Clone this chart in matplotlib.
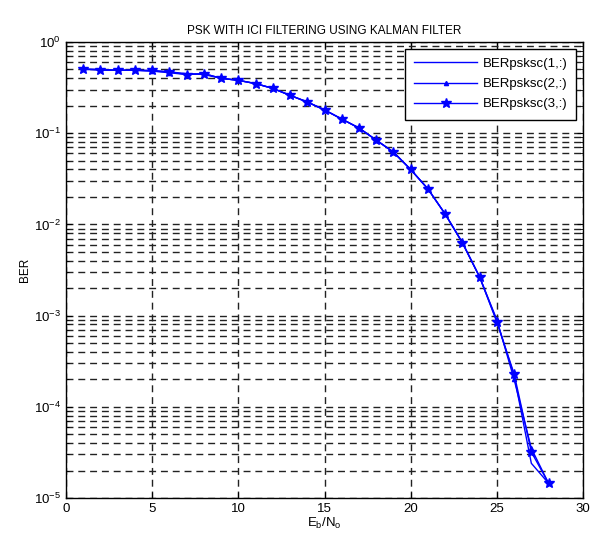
import matplotlib
matplotlib.use("Agg")
import matplotlib.pyplot as plt
import numpy as np

plt.rcParams['font.family'] = ['Liberation Sans', 'DejaVu Sans']
plt.rcParams['mathtext.fontset'] = 'custom'
plt.rcParams['mathtext.rm'] = 'Liberation Sans'
plt.rcParams['mathtext.it'] = 'Liberation Sans'

snr = list(range(1, 29))
ber1 = [0.50, 0.50, 0.49, 0.49, 0.48, 0.47, 0.45, 0.44, 0.40, 0.38, 0.35, 0.31, 0.26, 0.22,
        0.18, 0.143, 0.114, 0.084, 0.062, 0.040, 0.0245, 0.013, 0.0063, 0.00265, 0.00087,
        0.00022, 2.4e-5, 1.45e-5]
ber2 = [0.50, 0.50, 0.49, 0.49, 0.48, 0.46, 0.44, 0.45, 0.40, 0.38, 0.35, 0.31, 0.26, 0.22,
        0.18, 0.143, 0.114, 0.084, 0.062, 0.040, 0.0245, 0.013, 0.0063, 0.00265, 0.00090,
        0.00020, 3.5e-5, 1.45e-5]
ber3 = [0.51, 0.49, 0.49, 0.49, 0.49, 0.47, 0.44, 0.45, 0.40, 0.38, 0.35, 0.31, 0.26, 0.22,
        0.18, 0.143, 0.114, 0.084, 0.062, 0.040, 0.0245, 0.013, 0.0063, 0.00265, 0.00085,
        0.00023, 3.2e-5, 1.45e-5]
labels = ['BERpsksc(1,:)', 'BERpsksc(2,:)', 'BERpsksc(3,:)']
title = 'PSK WITH ICI FILTERING USING KALMAN FILTER'

fig = plt.figure(figsize=(5.93, 5.47), dpi=100)
ax = fig.add_axes([0.1113, 0.0896, 0.8719, 0.8336])

ax.semilogy(snr, ber1, '-', color='#0000ff', lw=1.0, label=labels[0])
ax.semilogy(snr, ber2, '-^', color='#0000ff', lw=1.0, ms=3, label=labels[1])
ax.semilogy(snr, ber3, '-*', color='#0000ff', lw=1.0, ms=7, label=labels[2])

ax.set_xlim(0, 30)
ax.set_ylim(1e-5, 1)
ax.set_xticks([0, 5, 10, 15, 20, 25, 30])
gs = (0, (5, 3.5))
ax.grid(True, which='major', axis='both', color='#222222', linestyle=gs, lw=1.0)
ax.grid(True, which='minor', axis='y', color='#222222', linestyle=gs, lw=1.0)
ax.tick_params(which='both', direction='in', top=True, right=True, labelsize=9.5)
ax.tick_params(which='major', length=4)
ax.tick_params(which='minor', length=2)
for s in ax.spines.values():
    s.set_linewidth(1.0)

ax.set_title(title, fontsize=8.5, pad=6)
ax.set_xlabel(r'$E_b/N_o$', fontsize=9.5, labelpad=1)
ax.set_ylabel('BER', fontsize=8.5, labelpad=2)

leg = ax.legend(loc='upper right', fontsize=9.5, fancybox=False, edgecolor='black',
                framealpha=1, borderaxespad=0.5, handlelength=4.8, borderpad=0.7,
                handletextpad=0.4, labelspacing=0.6)
leg.get_frame().set_linewidth(1.0)

fig.savefig('out.png', dpi=100)
